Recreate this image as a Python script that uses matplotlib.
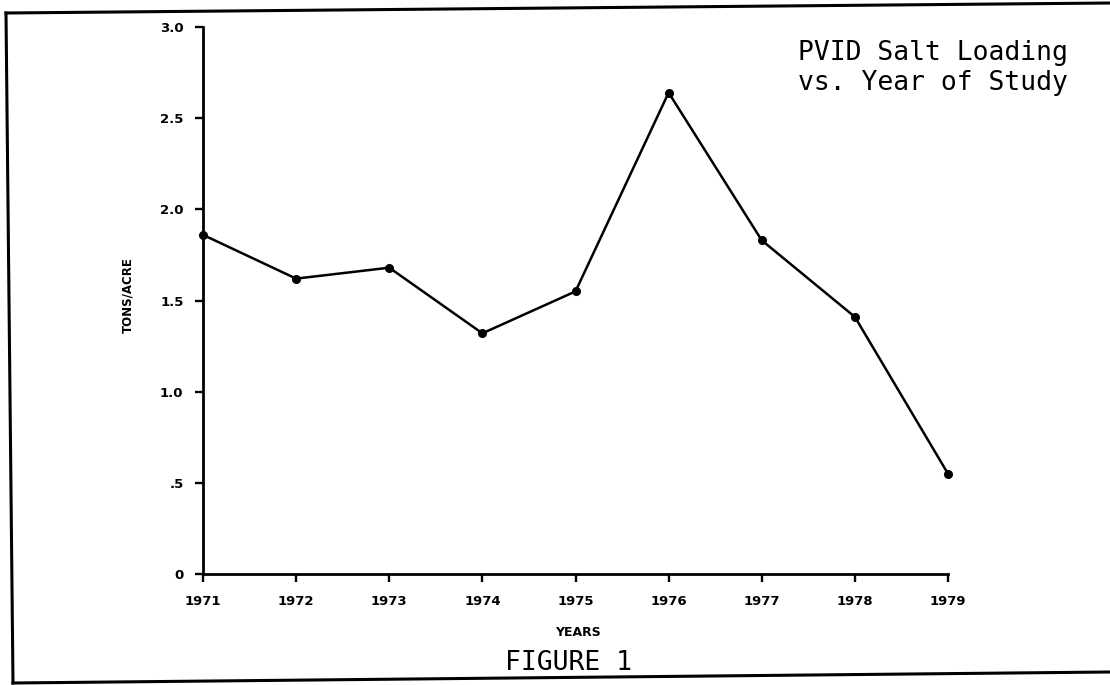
import matplotlib
matplotlib.use("Agg")
import matplotlib.pyplot as plt
from matplotlib.lines import Line2D

# data
years = [1971, 1972, 1973, 1974, 1975, 1976, 1977, 1978, 1979]
tons_per_acre = [1.86, 1.62, 1.68, 1.32, 1.55, 2.64, 1.83, 1.41, 0.55]
ytick_vals = [0, 0.5, 1.0, 1.5, 2.0, 2.5, 3.0]
ytick_text = ["0", ".5", "1.0", "1.5", "2.0", "2.5", "3.0"]

W, H = 1110, 685
fig = plt.figure(figsize=(W / 100, H / 100), dpi=100)
fig.patch.set_facecolor("white")


def fx(px):
    return px / W


def fy(py):
    return 1 - py / H


# axes box: 1971 at x=203, 1979 at x=948, 0 at y=574, 3.0 at y=27
ax = fig.add_axes([fx(203), fy(574), fx(948 - 203), (574 - 27) / H])
ax.plot(years, tons_per_acre, color="black", lw=1.8, marker="o", ms=5.5,
        clip_on=False)
ax.set_xlim(1971, 1979)
ax.set_ylim(0, 3.0)

for s in ("top", "right"):
    ax.spines[s].set_visible(False)
for s in ("left", "bottom"):
    ax.spines[s].set_linewidth(2.0)

ax.set_xticks(years)
ax.set_xticklabels([str(y) for y in years], fontsize=9.5, fontweight="bold")
ax.set_yticks(ytick_vals)
ax.set_yticklabels(ytick_text, fontsize=9.5, fontweight="bold")
ax.tick_params(axis="both", direction="out", length=6, width=1.7, colors="black")
ax.tick_params(axis="x", pad=9)
ax.tick_params(axis="y", pad=8)

# axis labels placed like the original
fig.text(fx(128), fy(295), "TONS/ACRE", rotation=90, ha="center", va="center",
         fontsize=8.5, fontweight="bold")
fig.text(fx(578), fy(632), "YEARS", ha="center", va="center",
         fontsize=9, fontweight="bold")

mono = "DejaVu Sans Mono"
fig.text(fx(798), fy(60), "PVID Salt Loading", ha="left", va="baseline",
         fontsize=19, family=mono)
fig.text(fx(798), fy(90), "vs. Year of Study", ha="left", va="baseline",
         fontsize=19, family=mono)
fig.text(fx(505), fy(670), "FIGURE 1", ha="left", va="baseline",
         fontsize=19, family=mono)

# scanned page frame (slightly skewed)
frame = [((6, 13), (1110, 3)), ((6, 13), (13, 683)), ((13, 683), (1110, 672))]
for (x0, y0), (x1, y1) in frame:
    fig.add_artist(Line2D([fx(x0), fx(x1)], [fy(y0), fy(y1)],
                          transform=fig.transFigure, color="black", lw=2.2))

fig.savefig("out.png", dpi=100)
